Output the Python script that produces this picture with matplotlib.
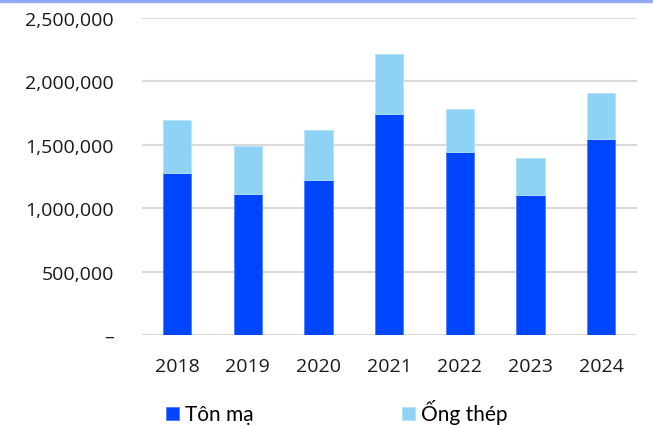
import matplotlib
matplotlib.use("Agg")
import matplotlib.pyplot as plt
from matplotlib.patches import Rectangle
from matplotlib.ticker import FuncFormatter

years = ["2018", "2019", "2020", "2021", "2022", "2023", "2024"]
ton_ma = [1276000, 1110000, 1226000, 1740000, 1446000, 1108000, 1546000]
ong_thep = [422000, 378000, 394000, 475000, 339000, 286000, 360000]
series_names = ["Tôn mạ", "Ống thép"]
yticks = [0, 500000, 1000000, 1500000, 2000000, 2500000]

c_dark = "#0046FF"
c_light = "#8ED3F5"

fig = plt.figure(figsize=(6.53, 4.27), dpi=100)
ax = fig.add_axes([141.7/653, 1 - 336/427, 495/653, (336 - 19)/427])

x = list(range(len(years)))
b1 = ax.bar(x, ton_ma, width=0.4, color=c_dark, edgecolor="#4d7dff", linewidth=0.6, label=series_names[0], zorder=3)
b2 = ax.bar(x, ong_thep, width=0.4, bottom=ton_ma, color=c_light, edgecolor="#b5e3f9", linewidth=0.6, label=series_names[1], zorder=3)

ax.set_xlim(-0.5, len(years) - 0.5)
ax.set_ylim(0, 2500000)
ax.set_yticks(yticks)
ax.yaxis.set_major_formatter(FuncFormatter(lambda v, p: "–" if v == 0 else f"{int(v):,}"))
ax.set_xticks(x)
ax.set_xticklabels(years)
ax.grid(axis="y", color="#d9d9d9", linewidth=1.5, zorder=0)
ax.set_axisbelow(True)
for s in ax.spines.values():
    s.set_visible(False)
ax.tick_params(axis="both", length=0, labelsize=14, labelcolor="#1a1a1a")
ax.tick_params(axis="y", pad=20)
ax.tick_params(axis="x", pad=16)
for lab in ax.get_xticklabels() + ax.get_yticklabels():
    lab.set_fontfamily("Open Sans")

leg = fig.legend(handles=[b1, b2], labels=series_names, loc="center left",
                 bbox_to_anchor=(166/653, 1 - 413/427), ncol=2, frameon=False,
                 handlelength=0.6, handleheight=0.6, handletextpad=0.3,
                 columnspacing=7.15, borderpad=0, borderaxespad=0,
                 prop={"family": "Lato", "size": 15})

fig.patches.append(Rectangle((0, 1 - 3/427), 1, 3/427, transform=fig.transFigure,
                             color="#93a9f5", zorder=0))

fig.savefig("out.png", dpi=100)
